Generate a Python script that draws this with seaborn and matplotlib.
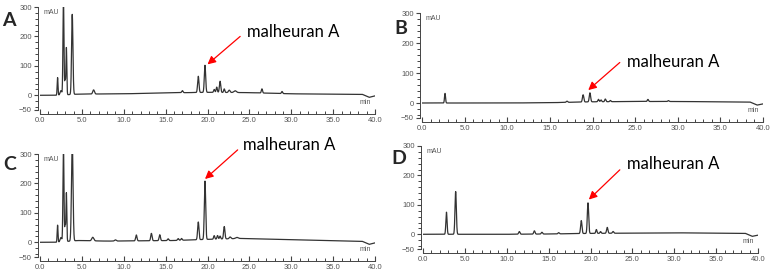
import numpy as np
import pandas as pd
import seaborn as sns
import matplotlib.pyplot as plt
from matplotlib.ticker import MultipleLocator, FormatStrFormatter

sns.set_theme(style="ticks")
plt.rcParams['font.family'] = ['Liberation Sans', 'DejaVu Sans']

# peak tables: retention time (min), height (mAU), width (min)
a_rt = [2.1, 2.5, 2.8, 3.0, 3.15, 3.85, 6.4, 17.0, 18.9, 19.7, 20.8, 21.1, 21.5, 22.0, 22.6, 23.3, 26.5, 28.9]
a_h = [60, 15, 330, 55, 160, 272, 14, 7, 55, 92, 10, 18, 38, 12, 8, 6, 14, 7]
a_w = [0.05, 0.1, 0.06, 0.05, 0.05, 0.08, 0.1, 0.08, 0.08, 0.08, 0.07, 0.07, 0.08, 0.07, 0.1, 0.15, 0.07, 0.07]
a_base_t = [0, 2.0, 4.5, 10, 15, 20, 25, 30, 35, 38.5, 39.3, 40]
a_base_v = [0, 0, 4, 5, 8, 10, 9, 5, 4, 3, -7, -2]

b_rt = [2.7, 17.0, 18.9, 19.7, 20.7, 21.0, 21.5, 22.1, 26.5, 28.9]
b_h = [32, 4, 24, 30, 8, 6, 9, 4, 7, 3]
b_w = [0.06, 0.08, 0.08, 0.08, 0.07, 0.07, 0.07, 0.07, 0.07, 0.07]
b_base_t = [0, 10, 15, 20, 25, 30, 35, 38.5, 39.3, 40]
b_base_v = [0, 0, 1, 4, 5, 5, 4, 3, -7, -3]

c_rt = [2.1, 2.5, 2.8, 3.0, 3.15, 3.85, 6.3, 9.0, 11.5, 13.3, 14.3, 15.3, 16.5, 16.9, 18.9, 19.7, 20.8, 21.2, 21.5, 22.0, 22.7, 23.5]
c_h = [58, 15, 330, 60, 165, 340, 12, 4, 20, 25, 20, 6, 6, 6, 60, 198, 12, 12, 10, 42, 6, 4]
c_w = [0.05, 0.1, 0.06, 0.05, 0.05, 0.09, 0.12, 0.1, 0.08, 0.08, 0.08, 0.08, 0.08, 0.08, 0.08, 0.08, 0.07, 0.07, 0.07, 0.08, 0.1, 0.15]
c_base_t = [0, 2.0, 4.5, 8, 12, 16, 20, 24, 30, 35, 38.5, 39.3, 40]
c_base_v = [0, 0, 6, 4, 5, 6, 10, 13, 9, 6, 3, -7, -2]

d_rt = [2.8, 3.9, 11.5, 13.3, 14.2, 16.2, 18.9, 19.7, 20.7, 21.2, 22.0, 22.7]
d_h = [75, 145, 9, 11, 6, 4, 44, 104, 13, 6, 20, 6]
d_w = [0.07, 0.08, 0.08, 0.08, 0.08, 0.08, 0.08, 0.08, 0.07, 0.07, 0.08, 0.08]
d_base_t = [0, 10, 15, 20, 25, 30, 35, 38.5, 39.3, 40]
d_base_v = [0, 0, 1, 3, 4, 5, 4, 3, -7, -3]

label = "malheuran A"


def trace(rt, h, w, bt, bv):
    t = np.arange(0, 40.0001, 0.005)
    y = np.interp(t, bt, bv)
    for r, hh, ww in zip(rt, h, w):
        y = y + hh * np.exp(-0.5 * ((t - r) / ww) ** 2)
    return pd.DataFrame({"min": t, "mAU": y})


panels = [
    # letter, data, axes px (left, right, top, bottom), letter xy px, text xy, arrow start, arrow tip
    ("A", trace(a_rt, a_h, a_w, a_base_t, a_base_v), (40, 375, 7, 110), (9, 21),
     (24.7, 214), (23.9, 200), (20.0, 105)),
    ("B", trace(b_rt, b_h, b_w, b_base_t, b_base_v), (422, 763, 13, 118), (401, 28),
     (24.0, 137), (23.2, 135), (19.5, 43)),
    ("C", trace(c_rt, c_h, c_w, c_base_t, c_base_v), (40, 375, 154, 257), (10, 164),
     (24.2, 331), (23.6, 314), (19.7, 215)),
    ("D", trace(d_rt, d_h, d_w, d_base_t, d_base_v), (423, 758, 146, 249), (399, 159),
     (24.4, 239), (23.5, 219), (19.8, 118)),
]

W, H = 774, 279
fig = plt.figure(figsize=(W / 100, H / 100), dpi=100)
fig.patch.set_facecolor("white")

for letter, df, (l, r, t, b), (lx, ly), txt, a0, a1 in panels:
    ax = fig.add_axes([l / W, 1 - b / H, (r - l) / W, (b - t) / H])
    ax.set_facecolor("white")
    sns.lineplot(data=df, x="min", y="mAU", ax=ax, color="#333333", lw=0.9, estimator=None)
    ax.set_xlim(0, 40)
    ax.set_ylim(-50, 300)
    ax.set_xlabel("")
    ax.set_ylabel("")
    sns.despine(ax=ax)
    ax.spines['bottom'].set_position(('outward', 3))
    ax.spines['left'].set_position(('outward', 1.5))
    for s in ('bottom', 'left'):
        ax.spines[s].set_linewidth(0.7)
        ax.spines[s].set_color("#444444")
    ax.xaxis.set_major_locator(MultipleLocator(5))
    ax.xaxis.set_minor_locator(MultipleLocator(1))
    ax.xaxis.set_major_formatter(FormatStrFormatter("%.1f"))
    ax.set_yticks([-50, 0, 100, 200, 300])
    ax.yaxis.set_minor_locator(MultipleLocator(20))
    ax.tick_params(bottom=True, left=True, which='both')
    ax.tick_params(axis='x', which='major', direction='in', length=3.5, width=0.8,
                   labelsize=5.5, labelcolor="#555555", color="#444444", pad=2)
    ax.tick_params(axis='x', which='minor', direction='in', length=2.2, width=0.7,
                   color="#444444")
    ax.tick_params(axis='y', which='major', direction='out', length=3, width=0.8,
                   labelsize=5.5, labelcolor="#555555", color="#444444", pad=1.5)
    ax.tick_params(axis='y', which='minor', direction='out', length=2, width=0.7,
                   color="#444444")

    ax.text(0.4, 282, "mAU", fontsize=5, color="#555555", va="center", ha="left")
    ax.text(38.2, -24, "min", fontsize=5, color="#555555", va="center", ha="left")
    ax.annotate("", xy=a1, xytext=a0,
                arrowprops=dict(arrowstyle="-|>", color="red", lw=0.9, mutation_scale=12,
                                shrinkA=0, shrinkB=0))
    ax.text(txt[0], txt[1], label, fontsize=12, color="black", va="center", ha="left",
            family=["Lato", "DejaVu Sans"], clip_on=False)
    fig.text(lx / W, 1 - ly / H, letter, fontsize=14, fontweight="bold",
             ha="center", va="center", family=["Lato", "DejaVu Sans"])

fig.savefig("out.png", dpi=100)
